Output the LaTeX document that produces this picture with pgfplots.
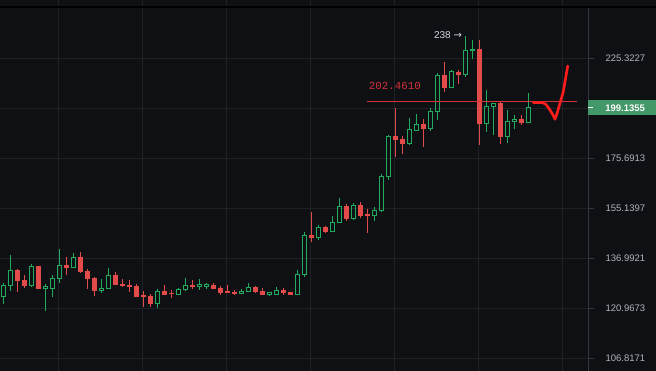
\documentclass[border=0pt]{standalone}
\usepackage{pgfplots}
\pgfplotsset{compat=1.18}
\usepackage{fontspec}
\setmainfont{Liberation Sans}
\newfontfamily\monofont{Liberation Mono}
\newfontfamily\dejavu{DejaVu Sans}
\definecolor{bgc}{RGB}{15,16,19}
\definecolor{gridc}{RGB}{31,33,37}
\definecolor{sepc}{RGB}{52,55,61}
\definecolor{cgreen}{RGB}{34,171,94}
\definecolor{cred}{RGB}{227,75,75}
\definecolor{labc}{RGB}{178,181,190}
\definecolor{boxg}{RGB}{66,152,104}
\definecolor{annot}{RGB}{209,212,220}
\definecolor{lred}{RGB}{214,48,58}
\definecolor{chk}{RGB}{255,28,28}
\begin{document}
\begin{tikzpicture}
\fill[bgc] (0,0) rectangle (656pt,371pt);
\begin{axis}[
  at={(0,0)}, anchor=south west,
  width=588pt, height=371pt, scale only axis,
  xmin=0.5286, xmax=84.529,
  ymode=log, ymin=103.49, ymax=260.50,
  clip=false,
  axis line style={draw=none},
  xtick={8.857,20.87,32.89,44.90,56.91,68.93,80.94},
  xticklabels={},
  xtick style={draw=none},
  ytick={106.8171,120.9673,136.9921,155.1397,175.6913,198.97,225.3227},
  yticklabels={106.8171,120.9673,136.9921,155.1397,175.6913,{},225.3227},
  ytick pos=right, yticklabel pos=right,
  tick align=outside, major tick length=6pt,
  ytick style={draw=sepc, line width=0.8pt},
  yticklabel style={font=\fontsize{9.5}{11}\selectfont, text=labc, anchor=west, xshift=8pt},
  grid=major,
  grid style={draw=gridc, line width=1pt},
  unbounded coords=jump,
]
% green wicks
\addplot[cgreen, line width=1pt] coordinates {
(1,128.75)(1,127.98)(1,nan)(1,124.53)(1,122.19)(1,nan)
(2,138.14)(2,132.97)(2,nan)(2,127.98)(2,126.39)(2,nan)
(5,135.08)(5,134.31)(5,nan)(5,127.98)(5,127.90)(5,nan)
(7,128.52)(7,127.57)(7,nan)(7,127.02)(7,120.16)(7,nan)
(8,131.34)(8,130.36)(8,nan)(8,127.02)(8,124.53)(8,nan)
(9,140.11)(9,134.64)(9,nan)(9,130.23)(9,128.94)(9,nan)
(11,138.72)(11,137.35)(11,nan)
(15,130.13)(15,127.15)(15,nan)(15,126.39)(15,125.77)(15,nan)
(16,133.84)(16,131.34)(16,nan)
(23,127.02)(23,126.21)(23,nan)(23,122.38)(23,121.16)(23,nan)
(26,127.34)(26,126.83)(26,nan)
(27,130.45)(27,128.11)(27,nan)(27,126.70)(27,126.39)(27,nan)
(29,130.23)(29,128.30)(29,nan)(29,127.66)(29,126.70)(29,nan)
(30,128.84)(30,128.30)(30,nan)(30,127.66)(30,127.02)(30,nan)
(35,126.83)(35,126.21)(35,nan)
(36,128.75)(36,127.47)(36,nan)
(39,125.99)(39,125.77)(39,nan)(39,125.15)(39,124.96)(39,nan)
(40,127.47)(40,126.52)(40,nan)
(43,133.17)(43,131.66)(43,nan)
(44,146.38)(44,145.08)(44,nan)(44,131.53)(44,130.68)(44,nan)
(46,148.95)(46,147.99)(46,nan)(46,144.35)(46,143.27)(46,nan)
(48,152.10)(48,149.84)(48,nan)
(49,159.18)(49,155.93)(49,nan)
(51,157.10)(51,156.32)(51,nan)(51,151.18)(51,150.80)(51,nan)
(54,155.54)(54,154.38)(54,nan)(54,152.33)(54,150.43)(54,nan)
(55,168.97)(55,167.72)(55,nan)(55,154.22)(55,153.73)(55,nan)
(56,186.06)(56,185.59)(56,nan)(56,167.72)(56,166.46)(56,nan)
(59,194.09)(59,188.51)(59,nan)(59,182.07)(59,181.62)(59,nan)
(60,196.18)(60,191.22)(60,nan)
(62,198.98)(62,197.64)(62,nan)(62,188.99)(62,188.19)(62,nan)
(63,217.08)(63,216.00)(63,nan)(63,197.50)(63,193.26)(63,nan)
(65,218.86)(65,217.78)(65,nan)
(67,238.00)(67,229.85)(67,nan)(67,216.33)(67,215.26)(67,nan)
(68,235.82)(68,230.43)(68,nan)(68,229.62)(68,224.92)(68,nan)
(70,208.09)(70,199.98)(70,nan)(70,191.50)(70,187.45)(70,nan)
(71,199.98)(71,186.20)(71,nan)
(73,197.98)(73,192.64)(73,nan)(73,185.40)(73,182.39)(73,nan)
(74,195.55)(74,193.60)(74,nan)(74,192.64)(74,189.13)(74,nan)
(76,206.55)(76,199.14)(76,nan)
};
% green hollow bodies
\addplot[cgreen, line width=1pt, line cap=rect] coordinates {
(0.71,124.53)(1.29,124.53)(1.29,127.98)(0.71,127.98)(0.71,124.53)(1,nan)
(1.71,127.98)(2.29,127.98)(2.29,132.97)(1.71,132.97)(1.71,127.98)(2,nan)
(4.71,127.98)(5.29,127.98)(5.29,134.31)(4.71,134.31)(4.71,127.98)(5,nan)
(6.71,127.02)(7.29,127.02)(7.29,127.57)(6.71,127.57)(6.71,127.02)(7,nan)
(7.71,127.02)(8.29,127.02)(8.29,130.36)(7.71,130.36)(7.71,127.02)(8,nan)
(8.71,130.23)(9.29,130.23)(9.29,134.64)(8.71,134.64)(8.71,130.23)(9,nan)
(10.71,133.84)(11.29,133.84)(11.29,137.35)(10.71,137.35)(10.71,133.84)(11,nan)
(14.71,126.39)(15.29,126.39)(15.29,127.15)(14.71,127.15)(14.71,126.39)(15,nan)
(15.71,127.02)(16.29,127.02)(16.29,131.34)(15.71,131.34)(15.71,127.02)(16,nan)
(22.71,122.38)(23.29,122.38)(23.29,126.21)(22.71,126.21)(22.71,122.38)(23,nan)
(25.71,125.15)(26.29,125.15)(26.29,126.83)(25.71,126.83)(25.71,125.15)(26,nan)
(26.71,126.70)(27.29,126.70)(27.29,128.11)(26.71,128.11)(26.71,126.70)(27,nan)
(28.71,127.66)(29.29,127.66)(29.29,128.30)(28.71,128.30)(28.71,127.66)(29,nan)
(29.71,127.66)(30.29,127.66)(30.29,128.30)(29.71,128.30)(29.71,127.66)(30,nan)
(34.71,125.46)(35.29,125.46)(35.29,126.21)(34.71,126.21)(34.71,125.46)(35,nan)
(35.71,126.08)(36.29,126.08)(36.29,127.47)(35.71,127.47)(35.71,126.08)(36,nan)
(38.71,125.15)(39.29,125.15)(39.29,125.77)(38.71,125.77)(38.71,125.15)(39,nan)
(39.71,125.15)(40.29,125.15)(40.29,126.52)(39.71,126.52)(39.71,125.15)(40,nan)
(42.71,125.15)(43.29,125.15)(43.29,131.66)(42.71,131.66)(42.71,125.15)(43,nan)
(43.71,131.53)(44.29,131.53)(44.29,145.08)(43.71,145.08)(43.71,131.53)(44,nan)
(45.71,144.35)(46.29,144.35)(46.29,147.99)(45.71,147.99)(45.71,144.35)(46,nan)
(47.71,146.38)(48.29,146.38)(48.29,149.84)(47.71,149.84)(47.71,146.38)(48,nan)
(48.71,149.69)(49.29,149.69)(49.29,155.93)(48.71,155.93)(48.71,149.69)(49,nan)
(50.71,151.18)(51.29,151.18)(51.29,156.32)(50.71,156.32)(50.71,151.18)(51,nan)
(53.71,152.33)(54.29,152.33)(54.29,154.38)(53.71,154.38)(53.71,152.33)(54,nan)
(54.71,154.22)(55.29,154.22)(55.29,167.72)(54.71,167.72)(54.71,154.22)(55,nan)
(55.71,167.72)(56.29,167.72)(56.29,185.59)(55.71,185.59)(55.71,167.72)(56,nan)
(58.71,182.07)(59.29,182.07)(59.29,188.51)(58.71,188.51)(58.71,182.07)(59,nan)
(59.71,188.19)(60.29,188.19)(60.29,191.22)(59.71,191.22)(59.71,188.19)(60,nan)
(61.71,188.99)(62.29,188.99)(62.29,197.64)(61.71,197.64)(61.71,188.99)(62,nan)
(62.71,197.50)(63.29,197.50)(63.29,216.00)(62.71,216.00)(62.71,197.50)(63,nan)
(64.71,209.45)(65.29,209.45)(65.29,217.78)(64.71,217.78)(64.71,209.45)(65,nan)
(66.71,216.33)(67.29,216.33)(67.29,229.85)(66.71,229.85)(66.71,216.33)(67,nan)
(67.71,229.62)(68.29,229.62)(68.29,230.43)(67.71,230.43)(67.71,229.62)(68,nan)
(69.71,191.50)(70.29,191.50)(70.29,199.98)(69.71,199.98)(69.71,191.50)(70,nan)
(70.71,199.98)(71.29,199.98)(71.29,201.47)(70.71,201.47)(70.71,199.98)(71,nan)
(72.71,185.40)(73.29,185.40)(73.29,192.64)(72.71,192.64)(72.71,185.40)(73,nan)
(73.71,192.64)(74.29,192.64)(74.29,193.60)(73.71,193.60)(73.71,192.64)(74,nan)
(75.71,192.17)(76.29,192.17)(76.29,199.14)(75.71,199.14)(75.71,192.17)(76,nan)
};
% red wicks
\addplot[cred, line width=1pt] coordinates {
(3,126.08)(3,133.24)(3,nan)
(4,127.34)(4,131.44)(4,nan)
(6,127.02)(6,134.41)(6,nan)
(10,131.44)(10,137.35)(10,nan)
(12,132.19)(12,139.17)(12,nan)
(13,127.02)(13,133.30)(13,nan)
(14,124.84)(14,130.88)(14,nan)
(17,128.30)(17,132.32)(17,nan)
(18,127.66)(18,130.23)(18,nan)
(19,126.08)(19,129.80)(19,nan)
(20,124.53)(20,128.52)(20,nan)
(21,121.46)(21,126.30)(21,nan)
(22,121.46)(22,125.37)(22,nan)
(24,125.15)(24,128.21)(24,nan)
(25,124.22)(25,126.61)(25,nan)
(28,127.02)(28,129.70)(28,nan)
(31,127.02)(31,128.94)(31,nan)
(32,125.15)(32,127.79)(32,nan)
(33,125.77)(33,128.11)(33,nan)
(34,125.15)(34,126.52)(34,nan)
(37,125.77)(37,127.89)(37,nan)
(38,125.15)(38,127.15)(38,nan)
(41,125.15)(41,127.34)(41,nan)
(42,125.15)(42,125.99)(42,nan)
(45,142.78)(45,153.84)(45,nan)
(47,145.80)(47,148.47)(47,nan)
(50,150.43)(50,156.82)(50,nan)
(52,151.57)(52,157.60)(52,nan)
(53,145.80)(53,154.99)(53,nan)
(57,176.41)(57,198.98)(57,nan)
(58,177.60)(58,185.73)(58,nan)
(61,180.85)(61,193.89)(61,nan)
(64,207.06)(64,223.10)(64,nan)
(66,211.38)(66,218.86)(66,nan)
(69,181.48)(69,235.82)(69,nan)
(72,182.21)(72,202.27)(72,nan)
(75,191.03)(75,195.55)(75,nan)
};
% red filled bodies
\addplot[cred, line width=5pt, line cap=butt] coordinates {
(3,133.07)(3,129.58)(3,nan)
(4,129.70)(4,127.98)(4,nan)
(6,134.41)(6,127.02)(6,nan)
(10,134.75)(10,133.84)(10,nan)
(12,137.35)(12,132.51)(12,nan)
(13,132.64)(13,130.23)(13,nan)
(14,130.45)(14,126.39)(14,nan)
(17,131.44)(17,128.30)(17,nan)
(18,128.62)(18,127.98)(18,nan)
(19,128.30)(19,127.66)(19,nan)
(20,127.89)(20,124.53)(20,nan)
(21,125.06)(21,124.53)(21,nan)
(22,124.74)(22,122.38)(22,nan)
(24,126.30)(24,125.15)(24,nan)
(25,125.77)(25,125.27)(25,nan)
(28,128.30)(28,127.66)(28,nan)
(31,128.21)(31,127.02)(31,nan)
(32,127.25)(32,125.77)(32,nan)
(33,126.30)(33,125.77)(33,nan)
(34,126.08)(34,125.46)(34,nan)
(37,127.47)(37,126.08)(37,nan)
(38,126.30)(38,125.15)(38,nan)
(41,126.61)(41,125.77)(41,nan)
(42,125.99)(42,125.15)(42,nan)
(45,145.08)(45,144.21)(45,nan)
(47,147.99)(47,146.38)(47,nan)
(50,155.93)(50,151.18)(50,nan)
(52,156.32)(52,152.33)(52,nan)
(53,153.08)(53,152.33)(53,nan)
(57,185.73)(57,183.88)(57,nan)
(58,184.48)(58,182.07)(58,nan)
(61,191.22)(61,189.13)(61,nan)
(64,216.00)(64,209.45)(64,nan)
(66,217.78)(66,216.33)(66,nan)
(69,230.43)(69,191.50)(69,nan)
(72,201.47)(72,185.40)(72,nan)
(75,193.60)(75,191.98)(75,nan)
};
% horizontal level line
\addplot[lred, line width=0.8pt] coordinates {(52.94,202.461)(82.96,202.461)};
% hand-drawn check
\addplot[chk, line width=2.6pt, line join=round, line cap=round] coordinates {
(76.714,201.76)(78.057,201.76)(78.529,200.86)(79.1,198.13)(79.529,195.68)(79.814,193.60)
(80.171,197.15)(80.529,201.61)(80.957,206.69)(81.243,212.42)(81.386,215.62)(81.629,221.05)};
\node[anchor=west, text=lred, font=\monofont\fontsize{10.8}{12}\selectfont, inner sep=0pt] at (axis cs:53.2,210.3) {202.4610};
\node[anchor=east, text=annot, font=\fontsize{10}{12}\selectfont, inner sep=0pt] at (axis cs:66.55,238.8) {238 {\dejavu →}};
% price scale separator
\draw[sepc, line width=1pt] (axis cs:84.529,103.49) -- (axis cs:84.529,255.5);
% current price box
\node[fill=boxg, text=white, anchor=west, minimum width=68pt, minimum height=15pt, inner sep=0pt,
      font=\bfseries\fontsize{9.5}{11}\selectfont] (pbox) at (axis cs:84.529,199.1355) {\hspace*{6pt}199.1355};
\draw[white, line width=1pt] (pbox.west) -- ++(5pt,0pt);
\end{axis}
\draw[black, line width=1.5pt] (0,364pt) -- (656pt,364pt);
\pgfresetboundingbox
\useasboundingbox (0,0) rectangle (656pt,371pt);
\end{tikzpicture}
\end{document}
